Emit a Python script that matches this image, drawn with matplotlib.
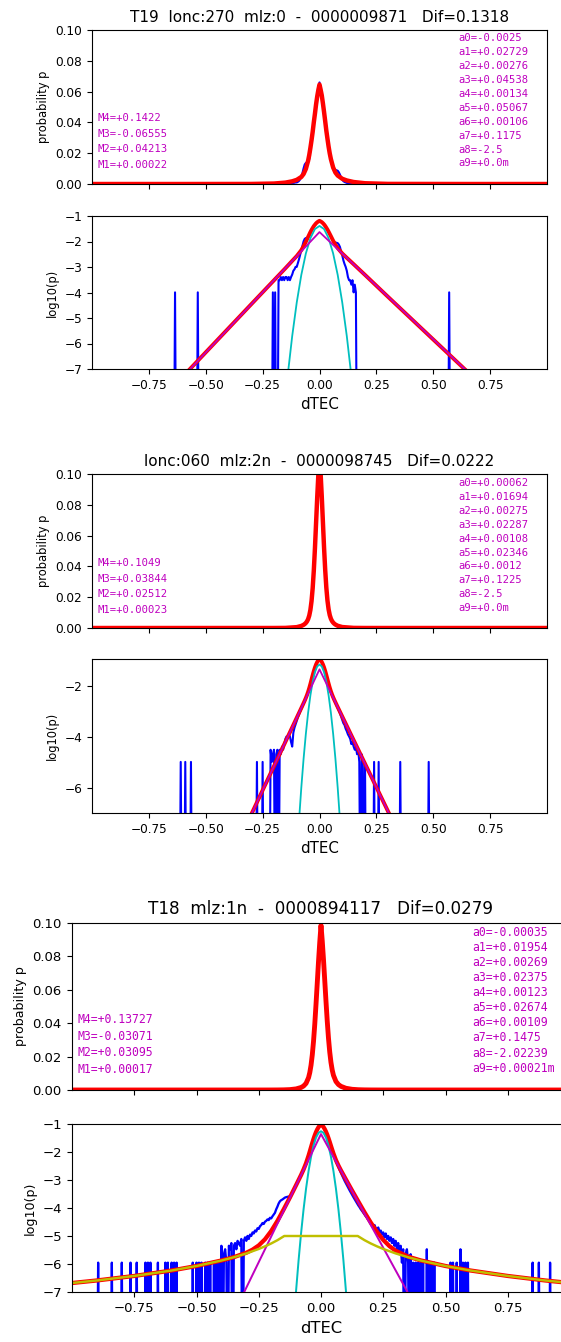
import numpy as np
import matplotlib.pyplot as plt

BIN_W = 0.005
XTICKS = [-0.75, -0.5, -0.25, 0.0, 0.25, 0.5, 0.75]

# ---------------- panel 1 : T19 lonc:270 mlz:0 ----------------
p1_title = "T19  lonc:270  mlz:0  -  0000009871   Dif=0.1318"
p1_n = 9871
p1_core_x0 = -0.18
p1_core_counts = [3, 3, 4, 3, 4, 3, 4, 4, 3, 4, 3, 4, 5, 7, 8, 10, 10, 14, 20, 30,
                  45, 70, 100, 125, 135, 138, 145, 160, 215, 275, 335, 395, 455, 511,
                  562, 603, 651, 605, 565, 515, 460, 400, 345, 290, 240, 195, 160, 130,
                  110, 95, 90, 88, 85, 75, 60, 40, 28, 18, 13, 10, 7, 4, 3, 3, 2, 3,
                  1, 2, 1]
p1_lone_x = [-0.635, -0.535, -0.205, -0.195, 0.57]
p1_lone_counts = [1, 1, 1, 1, 1]
p1_fit_x = [-1.0, -0.6, -0.3, -0.2, -0.15, -0.12, -0.1, -0.08, -0.07, -0.06, -0.05,
            -0.045, -0.04, -0.035, -0.03, -0.025, -0.02, -0.015, -0.01, -0.005, 0.0,
            0.005, 0.01, 0.015, 0.02, 0.025, 0.03, 0.035, 0.04, 0.045, 0.05, 0.06,
            0.07, 0.08, 0.1, 0.12, 0.15, 0.2, 0.3, 0.66, 1.0]
p1_fit_log = [-11.07, -7.29, -4.46, -3.52, -3.05, -2.76, -2.57, -2.34, -2.187, -2.01,
              -1.82, -1.724, -1.63, -1.546, -1.47, -1.397, -1.34, -1.286, -1.245,
              -1.214, -1.19, -1.213, -1.24, -1.281, -1.33, -1.389, -1.46, -1.532,
              -1.615, -1.702, -1.79, -1.97, -2.13, -2.26, -2.47, -2.64, -2.89, -3.31,
              -4.16, -7.19, -10.05]
p1_gauss_x = [-0.16, -0.14, -0.12, -0.1, -0.08, -0.06, -0.04, -0.02, 0.0, 0.02, 0.04,
              0.06, 0.08, 0.1, 0.12, 0.14, 0.16]
p1_gauss_log = [-9.07, -7.27, -5.71, -4.39, -3.31, -2.47, -1.87, -1.51, -1.39, -1.51,
                -1.87, -2.47, -3.31, -4.39, -5.71, -7.27, -9.07]
p1_exp_x = [-0.65, 0.0, 0.7]
p1_exp_log = [-7.77, -1.63, -7.52]
p1_moments = ["M4=+0.1422", "M3=-0.06555", "M2=+0.04213", "M1=+0.00022"]
p1_params = ["a0=-0.0025", "a1=+0.02729", "a2=+0.00276", "a3=+0.04538",
             "a4=+0.00134", "a5=+0.05067", "a6=+0.00106", "a7=+0.1175",
             "a8=-2.5", "a9=+0.0m"]
p1_log_top = -1.0

# ---------------- panel 2 : lonc:060 mlz:2n ----------------
p2_title = "lonc:060  mlz:2n  -  0000098745   Dif=0.0222"
p2_n = 98745
p2_core_x0 = -0.215
p2_core_counts = [3, 1, 2, 3, 0, 2, 3, 0, 3, 2, 4, 3, 5, 8, 10, 9, 12, 10, 6, 4,
                  14, 22, 30, 40, 55, 72, 95, 120, 150, 195, 250, 320, 420, 560, 790,
                  1150, 1720, 2550, 3700, 5130, 6750, 8400, 9850, 10990, 9870, 8420,
                  6780, 5160, 3730, 2590, 1750, 1180, 810, 580, 430, 330, 260, 205, 165,
                  130, 100, 80, 60, 45, 33, 28, 20, 16, 12, 10, 8, 5, 6, 4, 3, 4, 2,
                  3, 1, 0, 2, 1, 0, 1]
p2_lone_x = [-0.61, -0.59, -0.565, -0.275, -0.25, 0.24, 0.26, 0.355, 0.48]
p2_lone_counts = [1, 1, 1, 1, 1, 1, 1, 1, 1]
p2_fit_x = [-1.0, -0.3, -0.2, -0.15, -0.1, -0.08, -0.07, -0.065, -0.06, -0.055, -0.05,
            -0.045, -0.04, -0.035, -0.03, -0.025, -0.02, -0.015, -0.01, -0.005, 0.0,
            0.005, 0.01, 0.015, 0.02, 0.025, 0.03, 0.035, 0.04, 0.045, 0.05, 0.055,
            0.06, 0.065, 0.07, 0.08, 0.1, 0.15, 0.2, 0.3, 1.0]
p2_fit_log = [-20.35, -7.057, -5.158, -4.209, -3.259, -2.879, -2.687, -2.587, -2.482,
              -2.368, -2.239, -2.092, -1.93, -1.758, -1.587, -1.427, -1.285, -1.165,
              -1.071, -1.001, -0.954, -1.0, -1.069, -1.163, -1.282, -1.422, -1.581,
              -1.749, -1.917, -2.076, -2.218, -2.343, -2.454, -2.556, -2.653, -2.841,
              -3.211, -4.137, -5.062, -6.913, -19.87]
p2_gauss_x = [-0.1, -0.09, -0.08, -0.07, -0.06, -0.05, -0.04, -0.03, -0.02, -0.01, 0.0,
              0.01, 0.02, 0.03, 0.04, 0.05, 0.06, 0.07, 0.08, 0.09, 0.1]
p2_gauss_log = [-8.73, -7.294, -6.008, -4.874, -3.892, -3.06, -2.38, -1.85, -1.472,
                -1.246, -1.17, -1.246, -1.472, -1.85, -2.38, -3.06, -3.892, -4.874,
                -6.008, -7.294, -8.73]
p2_exp_x = [-0.35, 0.0, 0.35]
p2_exp_log = [-8.01, -1.36, -7.84]
p2_moments = ["M4=+0.1049", "M3=+0.03844", "M2=+0.02512", "M1=+0.00023"]
p2_params = ["a0=+0.00062", "a1=+0.01694", "a2=+0.00275", "a3=+0.02287",
             "a4=+0.00108", "a5=+0.02346", "a6=+0.0012", "a7=+0.1225",
             "a8=-2.5", "a9=+0.0m"]
p2_log_top = -0.954

# ---------------- panel 3 : T18 mlz:1n ----------------
p3_title = "T18  mlz:1n  -  0000894117   Dif=0.0279"
p3_n = 894117
p3_core_x0 = -0.40
p3_core_counts = [4, 0, 2, 3, 1, 0, 4, 3, 5, 0, 4, 5, 3, 6, 5, 4, 7, 0, 6, 8,
                  6, 9, 7, 10, 9, 12, 11, 14, 13, 17, 16, 20, 22, 26, 24, 29, 31, 35,
                  33, 40, 38, 45, 52, 60, 80, 100, 130, 155, 170, 180, 195, 210, 218,
                  224, 230, 235, 252, 320, 390, 475, 590, 715, 880, 1090, 1355, 1690,
                  2130, 2720, 3560, 4790, 6610, 9330, 13290, 18820, 26140, 35290,
                  45910, 57340, 68700, 79160, 88160, 79900, 69900, 58800, 47500,
                  36900, 27700, 20300, 14700, 10600, 7700, 5700, 4300, 3300, 2550,
                  2000, 1600, 1280, 1030, 830, 680, 560, 460, 380, 315, 265, 220, 185,
                  155, 130, 110, 95, 80, 70, 60, 52, 45, 40, 34, 30, 27, 24, 20, 22,
                  17, 15, 18, 12, 14, 10, 12, 8, 11, 7, 9, 6, 8, 5, 7, 4, 6, 3, 5, 2,
                  4, 1, 3, 0, 2, 3, 1, 0, 2]
p3_lone_x = [-0.895, -0.84, -0.8, -0.765, -0.74, -0.705, -0.695, -0.685, -0.655,
             -0.625, -0.615, -0.6, -0.59, -0.58, -0.515, -0.5, -0.49, -0.48, -0.465,
             -0.455, -0.445, -0.43, -0.42, -0.41, 0.37, 0.38, 0.39, 0.4, 0.41, 0.425,
             0.435, 0.445, 0.455, 0.52, 0.53, 0.545, 0.56, 0.57, 0.58, 0.59, 0.85,
             0.875, 0.92]
p3_lone_counts = [1, 1, 1, 1, 1, 1, 1, 1, 1, 1, 1, 1, 1, 1, 1, 1, 1, 1, 1, 1, 1, 1,
                  1, 1, 1, 1, 1, 1, 1, 3, 1, 1, 1, 1, 1, 1, 3, 1, 1, 1, 1, 1, 1]
p3_fit_x = [-1.0, -0.9, -0.75, -0.6, -0.5, -0.4, -0.35, -0.3, -0.275, -0.25, -0.225,
            -0.2, -0.175, -0.15, -0.125, -0.1, -0.08, -0.07, -0.06, -0.05, -0.045,
            -0.04, -0.035, -0.03, -0.025, -0.02, -0.015, -0.01, -0.005, 0.0, 0.005,
            0.01, 0.015, 0.02, 0.025, 0.03, 0.035, 0.04, 0.045, 0.05, 0.06, 0.07,
            0.08, 0.1, 0.125, 0.15, 0.175, 0.2, 0.225, 0.25, 0.275, 0.3, 0.35, 0.4,
            0.5, 0.6, 0.75, 0.9, 1.0]
p3_fit_log = [-6.679, -6.588, -6.427, -6.232, -6.071, -5.875, -5.755, -5.599, -5.488,
              -5.336, -5.118, -4.823, -4.461, -4.052, -3.627, -3.182, -2.82, -2.623,
              -2.4, -2.131, -1.981, -1.828, -1.677, -1.534, -1.404, -1.289, -1.193,
              -1.114, -1.053, -1.006, -1.049, -1.107, -1.182, -1.274, -1.383, -1.507,
              -1.641, -1.782, -1.921, -2.055, -2.291, -2.485, -2.657, -2.98, -3.38,
              -3.77, -4.156, -4.522, -4.855, -5.14, -5.363, -5.528, -5.737, -5.871,
              -6.071, -6.232, -6.427, -6.588, -6.679]
p3_gauss_x = [-0.11, -0.1, -0.09, -0.08, -0.07, -0.06, -0.05, -0.04, -0.03, -0.02,
              -0.01, 0.0, 0.01, 0.02, 0.03, 0.04, 0.05, 0.06, 0.07, 0.08, 0.09, 0.1,
              0.11]
p3_gauss_log = [-8.141, -6.947, -5.866, -4.9, -4.047, -3.307, -2.682, -2.17, -1.772,
                -1.487, -1.317, -1.26, -1.317, -1.487, -1.772, -2.17, -2.682, -3.307,
                -4.047, -4.9, -5.866, -6.947, -8.141]
p3_exp_x = [-0.4, 0.0, 0.45]
p3_exp_log = [-8.676, -1.36, -8.668]
p3_tail_x = [-1.0, -0.9, -0.75, -0.6, -0.5, -0.4, -0.35, -0.3, -0.25, -0.225, -0.2,
             -0.175, -0.1475, 0.1475, 0.175, 0.2, 0.225, 0.25, 0.3, 0.35, 0.4, 0.5,
             0.6, 0.75, 0.9, 1.0]
p3_tail_log = [-6.679, -6.588, -6.427, -6.232, -6.071, -5.875, -5.759, -5.623, -5.463,
               -5.37, -5.267, -5.15, -5.0, -5.0, -5.15, -5.267, -5.37, -5.463, -5.623,
               -5.759, -5.875, -6.071, -6.232, -6.427, -6.588, -6.679]
p3_moments = ["M4=+0.13727", "M3=-0.03071", "M2=+0.03095", "M1=+0.00017"]
p3_params = ["a0=-0.00035", "a1=+0.01954", "a2=+0.00269", "a3=+0.02375",
             "a4=+0.00123", "a5=+0.02674", "a6=+0.00109", "a7=+0.1475",
             "a8=-2.02239", "a9=+0.00021m"]
p3_log_top = -1.0


def histogram(n_total, core_x0, core_counts, lone_x, lone_counts):
    x = np.arange(-200, 201) * BIN_W
    counts = np.zeros(x.size)
    i0 = int(round((core_x0 + 1) / BIN_W))
    counts[i0:i0 + len(core_counts)] = core_counts
    for xv, c in zip(lone_x, lone_counts):
        counts[int(round((xv + 1) / BIN_W))] = c
    p = counts / n_total
    # empty bins are pushed far below the plotted range
    logp = np.full(x.size, -12.0)
    logp[counts > 0] = np.log10(p[counts > 0])
    return x, p, logp


W, H = 561, 1342
fig = plt.figure(figsize=(W / 100, H / 100), dpi=100)


def rect(left, right, top, bottom):
    return [left / W, 1 - bottom / H, (right - left) / W, (bottom - top) / H]


def draw_panel(box_top, box_bot, s, title, hist, fit, gauss, expo, tail,
               moments, params, log_top, mom_y, par_y, par_x):
    x, p, logp = hist
    fx, flog = np.array(fit[0]), np.array(fit[1])

    ax = fig.add_axes(box_top)
    ax.plot(x, p, color='b', lw=1.5 * s)
    ax.plot(fx, 10 ** flog, color='r', lw=3.2 * s)
    ax.set_xlim(-1, 1)
    ax.set_ylim(0, 0.1)
    ax.set_xticks(XTICKS)
    ax.set_yticks([0, 0.02, 0.04, 0.06, 0.08, 0.1])
    ax.tick_params(labelbottom=False, labelsize=8.7 * s, length=3.5 * s)
    ax.set_ylabel('probability p', fontsize=8.3 * s)
    ax.set_title(title, fontsize=11 * s, pad=6 * s)
    for i, t in enumerate(moments):
        ax.text(0.012, mom_y[0] - i * mom_y[1], t, transform=ax.transAxes,
                family='DejaVu Sans Mono', color='m', fontsize=7.6 * s, va='center')
    for i, t in enumerate(params):
        ax.text(par_x, par_y[0] - i * par_y[1], t, transform=ax.transAxes,
                family='DejaVu Sans Mono', color='m', fontsize=7.6 * s, va='center')

    bx = fig.add_axes(box_bot)
    bx.plot(x, logp, color='b', lw=1.5 * s)
    bx.plot(fx, flog, color='r', lw=2.8 * s)
    bx.plot(gauss[0], gauss[1], color='c', lw=1.3 * s)
    bx.plot(expo[0], expo[1], color='m', lw=1.3 * s)
    if tail is not None:
        bx.plot(tail[0], tail[1], color='y', lw=1.6 * s)
    bx.set_xlim(-1, 1)
    bx.set_ylim(-7, log_top)
    bx.set_xticks(XTICKS)
    bx.tick_params(labelsize=8.7 * s, length=3.5 * s)
    bx.set_ylabel('log10(p)', fontsize=8.3 * s)
    bx.set_xlabel('dTEC', fontsize=10.8 * s)


draw_panel(rect(92, 547, 30, 184), rect(92, 547, 216, 369), 1.0, p1_title,
           histogram(p1_n, p1_core_x0, p1_core_counts, p1_lone_x, p1_lone_counts),
           (p1_fit_x, p1_fit_log), (p1_gauss_x, p1_gauss_log), (p1_exp_x, p1_exp_log),
           None, p1_moments, p1_params, p1_log_top,
           (0.426, 0.1), (0.946, 0.0903), 0.806)
draw_panel(rect(92, 547, 474, 628), rect(92, 547, 659, 813), 1.0, p2_title,
           histogram(p2_n, p2_core_x0, p2_core_counts, p2_lone_x, p2_lone_counts),
           (p2_fit_x, p2_fit_log), (p2_gauss_x, p2_gauss_log), (p2_exp_x, p2_exp_log),
           None, p2_moments, p2_params, p2_log_top,
           (0.42, 0.1), (0.94, 0.09), 0.806)
draw_panel(rect(72, 570, 923, 1090), rect(72, 570, 1124, 1292), 1.095, p3_title,
           histogram(p3_n, p3_core_x0, p3_core_counts, p3_lone_x, p3_lone_counts),
           (p3_fit_x, p3_fit_log), (p3_gauss_x, p3_gauss_log), (p3_exp_x, p3_exp_log),
           (p3_tail_x, p3_tail_log), p3_moments, p3_params, p3_log_top,
           (0.424, 0.101), (0.946, 0.0906), 0.803)

fig.savefig('out.png', dpi=100)
